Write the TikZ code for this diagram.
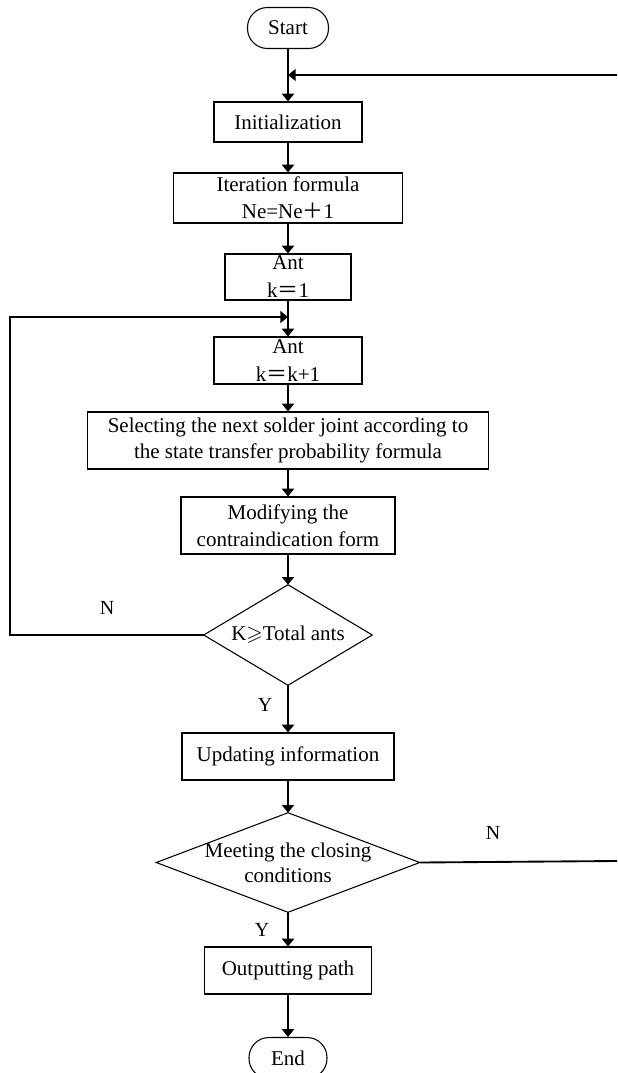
\documentclass[tikz,border=0pt]{standalone}
\usepackage{amssymb}
\usepackage{fontspec}
\setmainfont{Liberation Serif}
\newfontfamily\cjkfw{Noto Sans CJK SC}
\usetikzlibrary{arrows.meta}
\newcommand{\fwplus}{{\cjkfw ＋}}
\newcommand{\fweq}{{\cjkfw ＝}}
\tikzset{
  box/.style={draw, line width=0.8pt, inner sep=0pt, align=center,
    font=\fontsize{15.75}{20}\selectfont},
  term/.style={box, rounded corners=15pt},
  dia/.style={inner sep=0pt, align=center, font=\fontsize{15.75}{19}\selectfont},
  conn/.style={line width=1.4pt, -{Triangle[length=5.8pt,width=9pt]}},
  plain/.style={line width=1.4pt},
  lab/.style={font=\fontsize{15}{18}\selectfont, inner sep=0pt}
}
\begin{document}
\begin{tikzpicture}[x=0.75pt,y=-0.75pt]
\useasboundingbox (0,0) rectangle (617,1073);
\node[term, minimum width=60.75pt, minimum height=30.75pt] (start) at (288,28) {Start};
\node[box, minimum width=111pt, minimum height=30pt] (init) at (288,122) {Initialization};
\node[box, minimum width=171.75pt, minimum height=37.5pt] (iter) at (288,198) {Iteration formula\\Ne=Ne\fwplus 1};
\node[box, minimum width=94.5pt, minimum height=34.5pt, font=\fontsize{15.75}{21}\selectfont] (ant1) at (288,277) {Ant\\k\fweq 1};
\node[box, minimum width=111pt, minimum height=35.25pt, font=\fontsize{15.75}{21}\selectfont] (ant2) at (288,360.5) {Ant\\k\fweq k+1};
\node[box, minimum width=300.75pt, minimum height=42.75pt, font=\fontsize{15.75}{19.5}\selectfont] (sel) at (288,440.5) {Selecting the next solder joint according to\\the state transfer probability formula};
\node[box, minimum width=160.5pt, minimum height=42.75pt] (mod) at (288,525.5) {Modifying the\\contraindication form};
\node[dia, minimum width=126pt, minimum height=75pt] (d1) at (288,635) {K$\geqslant$Total ants};
\draw[line width=0.8pt] (d1.north) -- (d1.east) -- (d1.south) -- (d1.west) -- cycle;
\node[box, minimum width=159pt, minimum height=35.25pt] (upd) at (288,756.5) {Updating information};
\node[dia, minimum width=197.25pt, minimum height=74.25pt] (d2) at (288,862.5) {Meeting the closing\\conditions};
\draw[line width=0.8pt] (d2.north) -- (d2.east) -- (d2.south) -- (d2.west) -- cycle;
\node[box, minimum width=125.25pt, minimum height=35.25pt] (out) at (288,970.5) {Outputting path};
\node[term, minimum width=58.5pt, minimum height=30.75pt] (end) at (288,1058) {End};

\coordinate (jA) at (288,75);
\coordinate (rA) at (617,75);
\coordinate (jB) at (288,317);
\coordinate (lB1) at (10,317);
\coordinate (lB2) at (10,635);
\coordinate (rC) at (617,861);

\draw[conn] (start.south) -- (init.north);
\draw[conn] (init.south) -- (iter.north);
\draw[conn] (iter.south) -- (ant1.north);
\draw[conn] (ant1.south) -- (ant2.north);
\draw[conn] (ant2.south) -- (sel.north);
\draw[conn] (sel.south) -- (mod.north);
\draw[conn] (mod.south) -- (d1.north);
\draw[conn] (d1.south) -- (upd.north);
\draw[conn] (upd.south) -- (d2.north);
\draw[conn] (d2.south) -- (out.north);
\draw[conn] (out.south) -- (end.north);

\draw[conn] (rA) -- (jA);
\draw[conn] (d1.west) -- (lB2) -- (lB1) -- (jB);
\draw[plain] (d2.east) -- (rC);

\node[lab] (n1) at (107,608) {N};
\node[lab] (y1) at (265,705) {Y};
\node[lab] (n2) at (493,833) {N};
\node[lab] (y2) at (262,930) {Y};
\end{tikzpicture}
\end{document}
